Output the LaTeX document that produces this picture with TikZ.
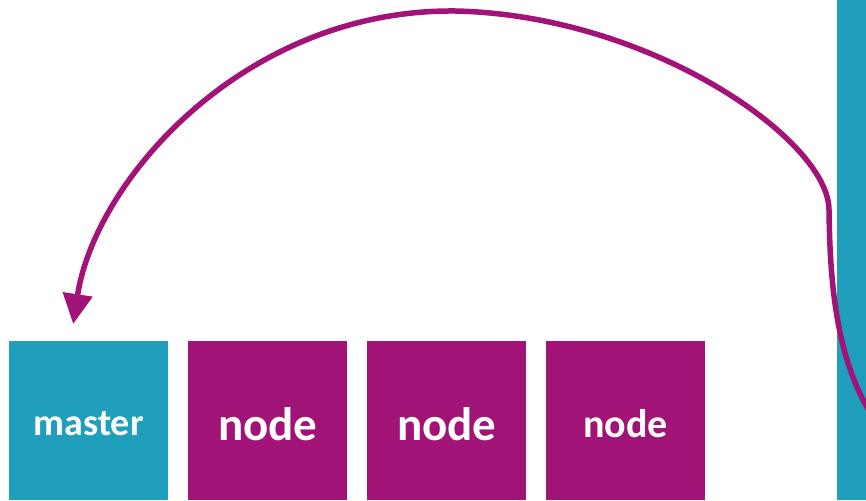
\documentclass[tikz,border=0pt]{standalone}
\usepackage{fontspec}
\setmainfont{Carlito}
\usetikzlibrary{arrows.meta}
\definecolor{teal}{HTML}{1F9FBC}
\definecolor{plum}{HTML}{A21377}
% label text, set a little below the box centre
\newcommand{\boxtext}[2]{\raisebox{-3pt}[\height][\depth]{\fontsize{#1}{#1}\selectfont #2}}
\tikzset{
  box/.style={minimum width=159pt, minimum height=159pt, inner sep=0pt,
    text=white, font=\bfseries, anchor=north west},
  flow/.style={draw=plum, line width=5.5pt,
    -{Triangle[length=30pt, width=29pt]}}
}
\begin{document}
\begin{tikzpicture}[x=1pt, y=-1pt]
  \useasboundingbox (0,0) rectangle (866,500);
  \clip (0,0) rectangle (866,500);
  % cluster machines
  \node[box, fill=teal] (master) at (9,341) {\boxtext{38}{master}};
  \node[box, fill=plum] (n1) at (188,341) {\boxtext{47}{node}};
  \node[box, fill=plum] (n2) at (367,341) {\boxtext{47}{node}};
  \node[box, fill=plum] (n3) at (546,341) {\boxtext{40}{node}};
  % outside component on the right
  \node[fill=teal, minimum width=40pt, minimum height=500pt, inner sep=0pt,
    anchor=north west] (ext) at (837,0) {};
  \coordinate (src) at (878,425);
  \draw[flow] (src) .. controls (840,370) and (830,300) .. (829,210)
    .. controls (829,140) and (650,15) .. (455,11)
    .. controls (245,9) and (95,180) .. ([xshift=-15.5pt, yshift=17pt]master.north);
\end{tikzpicture}
\end{document}
